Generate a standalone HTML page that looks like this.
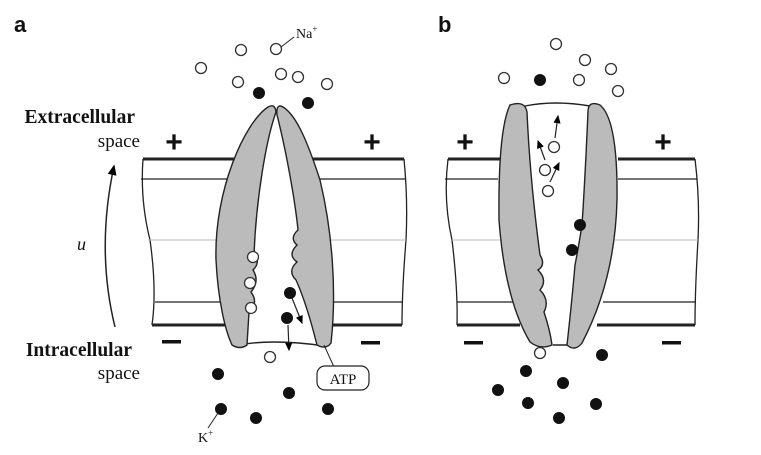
<!DOCTYPE html>
<html><head><meta charset="utf-8"><style>
body{margin:0;background:#fff}
svg{display:block;font-family:"Liberation Serif",serif}
</style></head><body>
<svg width="761" height="455" viewBox="0 0 761 455">
<defs><marker id="ah" markerWidth="8" markerHeight="8" refX="6" refY="4" orient="auto"><path d="M0,1 L7,4 L0,7 Z" fill="#000"/></marker></defs>
<g stroke="#222" fill="none">
<g>
<path d="M143,159 Q140,200 150,240 Q157,290 152,325" stroke-width="1.3"/>
<path d="M404,159 Q408,200 406,240 Q402,290 402,325" stroke-width="1.3"/>
<line x1="143" y1="159" x2="245" y2="159" stroke-width="3"/>
<line x1="300" y1="159" x2="404" y2="159" stroke-width="3"/>
<line x1="141" y1="179" x2="240" y2="179" stroke-width="1.3"/>
<line x1="302" y1="179" x2="405" y2="179" stroke-width="1.3"/>
<line x1="148" y1="240" x2="232" y2="240" stroke="#bbb"/>
<line x1="310" y1="240" x2="406" y2="240" stroke="#bbb"/>
<line x1="155" y1="302" x2="230" y2="302" stroke-width="1.3"/>
<line x1="322" y1="302" x2="403" y2="302" stroke-width="1.3"/>
<line x1="152" y1="325" x2="233" y2="325" stroke-width="3"/>
<line x1="323" y1="325" x2="402" y2="325" stroke-width="3"/>
</g>
<g stroke-width="1.4">
<path d="M233,346 Q270,338 325,346" fill="#fff"/>
<path d="M268,107 C245,122 214,190 216,260 C218,300 225,330 232,345 Q240,350 247,345 L249,312 Q259,303 251,292 Q260,281 253,270 Q261,262 254,255 C256,200 266,140 276,112 Q275,103 268,107 Z" fill="#bbb"/>
<path d="M283,107 Q276,103 277,115 C286,150 295,200 298,230 Q289,238 297,245 Q287,255 297,262 Q287,271 296,280 C305,300 312,325 317,345 Q326,350 331,343 C337,290 332,230 320,180 C307,140 296,115 283,107 Z" fill="#bbb"/>
</g>
<g>
<path d="M448,159 Q443,200 452,240 Q458,290 457,325" stroke-width="1.3"/>
<path d="M695,159 Q700,200 698,240 Q695,290 695,325" stroke-width="1.3"/>
<line x1="448" y1="159" x2="500" y2="159" stroke-width="3"/>
<line x1="618" y1="159" x2="695" y2="159" stroke-width="3"/>
<line x1="445" y1="179" x2="498" y2="179" stroke-width="1.3"/>
<line x1="618" y1="179" x2="697" y2="179" stroke-width="1.3"/>
<line x1="452" y1="240" x2="500" y2="240" stroke="#bbb"/>
<line x1="615" y1="240" x2="698" y2="240" stroke="#bbb"/>
<line x1="457" y1="302" x2="515" y2="302" stroke-width="1.3"/>
<line x1="603" y1="302" x2="696" y2="302" stroke-width="1.3"/>
<line x1="457" y1="325" x2="520" y2="325" stroke-width="3"/>
<line x1="597" y1="325" x2="695" y2="325" stroke-width="3"/>
</g>
<g stroke-width="1.4">
<path d="M525,106 Q555,100 590,106" fill="#fff"/>
<path d="M553,345 L570,345"/>
<path d="M510,105 Q525,100 527,112 Q530,180 540,255 Q546,265 538,270 Q548,280 540,290 Q550,300 544,312 Q550,330 552,345 Q540,350 530,342 Q505,300 499,220 Q498,130 510,105 Z" fill="#bbb"/>
<path d="M600,105 Q588,100 588,112 Q585,180 582,225 Q578,250 575,265 Q572,300 567,345 Q575,352 582,343 Q615,280 617,200 Q618,120 600,105 Z" fill="#bbb"/>
</g>
<g stroke-width="1.2" marker-end="url(#ah)">
<line x1="292" y1="298" x2="302" y2="323"/>
<line x1="288" y1="325" x2="289" y2="350"/>
<line x1="555" y1="138" x2="558" y2="116"/>
<line x1="545" y1="160" x2="538" y2="141"/>
<line x1="550" y1="182" x2="559" y2="163"/>
<path d="M115,327 Q96,250 114,166" stroke-width="1.5"/>
</g>
<line x1="294" y1="37" x2="281" y2="47" stroke-width="1"/>
<line x1="208" y1="428" x2="218" y2="413" stroke-width="1"/>
<line x1="324" y1="345" x2="334" y2="367" stroke-width="1"/>
<rect x="317" y="366" width="52" height="24" rx="8" fill="#fff" stroke-width="1.2"/>
</g>
<g fill="#fff" stroke="#333" stroke-width="1.3">
<circle cx="241" cy="50" r="5.5"/><circle cx="276" cy="49" r="5.5"/><circle cx="201" cy="68" r="5.5"/><circle cx="238" cy="82" r="5.5"/><circle cx="281" cy="74" r="5.5"/><circle cx="298" cy="77" r="5.5"/><circle cx="327" cy="84" r="5.5"/><circle cx="253" cy="257" r="5.5"/><circle cx="250" cy="283" r="5.5"/><circle cx="251" cy="308" r="5.5"/><circle cx="270" cy="357" r="5.5"/>
<circle cx="556" cy="44" r="5.5"/><circle cx="585" cy="60" r="5.5"/><circle cx="611" cy="69" r="5.5"/><circle cx="504" cy="78" r="5.5"/><circle cx="579" cy="80" r="5.5"/><circle cx="618" cy="91" r="5.5"/><circle cx="554" cy="147" r="5.5"/><circle cx="545" cy="170" r="5.5"/><circle cx="548" cy="191" r="5.5"/><circle cx="540" cy="353" r="5.5"/>
</g>
<g fill="#111">
<circle cx="259" cy="93" r="6"/><circle cx="308" cy="103" r="6"/><circle cx="290" cy="293" r="6"/><circle cx="287" cy="318" r="6"/><circle cx="218" cy="374" r="6"/><circle cx="289" cy="393" r="6"/><circle cx="221" cy="409" r="6"/><circle cx="256" cy="418" r="6"/><circle cx="328" cy="409" r="6"/>
<circle cx="540" cy="80" r="6"/><circle cx="580" cy="225" r="6"/><circle cx="572" cy="250" r="6"/><circle cx="602" cy="355" r="6"/><circle cx="526" cy="371" r="6"/><circle cx="563" cy="383" r="6"/><circle cx="498" cy="390" r="6"/><circle cx="528" cy="403" r="6"/><circle cx="596" cy="404" r="6"/><circle cx="559" cy="418" r="6"/>
</g>
<g fill="#111">
<text x="14" y="32" font-family="Liberation Sans,sans-serif" font-weight="bold" font-size="22">a</text>
<text x="438" y="32" font-family="Liberation Sans,sans-serif" font-weight="bold" font-size="22">b</text>
<text x="135" y="123" text-anchor="end" font-weight="bold" font-size="19.5">Extracellular</text>
<text x="140" y="147" text-anchor="end" font-size="19">space</text>
<text x="132" y="356" text-anchor="end" font-weight="bold" font-size="19.5">Intracellular</text>
<text x="140" y="379" text-anchor="end" font-size="19">space</text>
<text x="77" y="250" font-style="italic" font-size="18">u</text>
<text x="296" y="38" font-size="14">Na<tspan font-size="9" dy="-6">+</tspan></text>
<text x="198" y="442" font-size="14">K<tspan font-size="9" dy="-6">+</tspan></text>
<text x="343" y="384" text-anchor="middle" font-size="15">ATP</text>
<g font-family="Liberation Sans,sans-serif" font-weight="bold" font-size="30" text-anchor="middle">
<text x="174" y="152">+</text><text x="372" y="152">+</text><text x="465" y="152">+</text><text x="663" y="152">+</text>
</g>
</g>
<g fill="#111">
<rect x="162" y="340" width="19" height="3.5"/><rect x="361" y="341" width="19" height="3.5"/><rect x="464" y="341" width="19" height="3.5"/><rect x="662" y="341" width="19" height="3.5"/>
</g>
</svg>
</body></html>
